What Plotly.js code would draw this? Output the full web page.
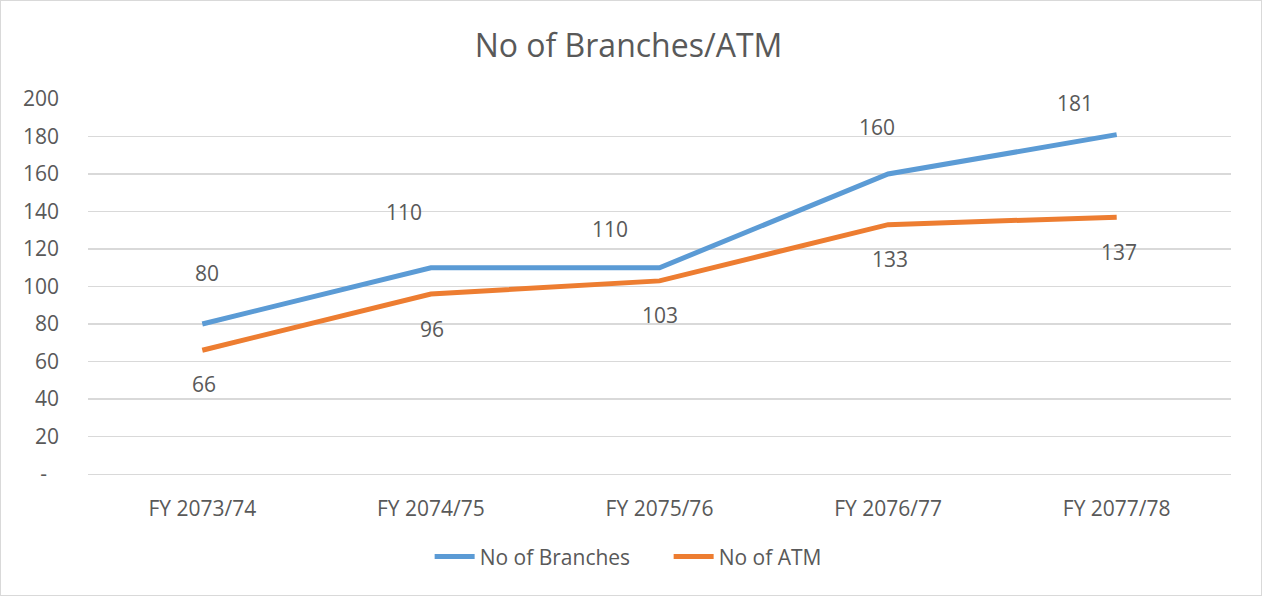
<!DOCTYPE html>
<html>
<head>
<meta charset="utf-8">
<script src="https://cdn.plot.ly/plotly-3.0.1.min.js"></script>
<style>
  body { margin: 0; background: #fff; }
  #lineChart { width: 1262px; height: 596px; box-sizing: border-box; border: 1px solid #d9d9d9; }
</style>
</head>
<body>
<div id="lineChart"></div>
<script>
var years = ["FY 2073/74", "FY 2074/75", "FY 2075/76", "FY 2076/77", "FY 2077/78"];
var branches = [80, 110, 110, 160, 181];
var atms = [66, 96, 103, 133, 137];
var yTicks = [0, 20, 40, 60, 80, 100, 120, 140, 160, 180, 200];
var yTickText = ["-\u2007", "20", "40", "60", "80", "100", "120", "140", "160", "180", "200"];

// label offsets (px) as Excel placed them
var branchShiftX = [5, -27, -50, -11, -42];
var branchShiftY = [51, 56, 39, 47, 32];
var atmShiftX = [2, 1, 0, 2, 2];
var atmShiftY = [-34, -35, -34, -34, -35];

var FONT = "Open Sans, Lato, sans-serif";
var GREY = "#595959";

TESTER = document.getElementById("lineChart");

var trace1 = {
  x: years,
  y: branches,
  mode: "lines",
  type: "scatter",
  name: "No of Branches",
  line: { color: "#5b9bd5", width: 5 },
  hoverinfo: "skip",
};

var trace2 = {
  x: years,
  y: atms,
  mode: "lines",
  type: "scatter",
  name: "No of ATM",
  line: { color: "#ed7d31", width: 5 },
  hoverinfo: "skip",
};

var labels = [];
years.forEach(function (yr, i) {
  labels.push({
    x: yr, y: branches[i], text: String(branches[i]), showarrow: false,
    xshift: branchShiftX[i], yshift: branchShiftY[i],
    font: { family: FONT, size: 21, color: GREY },
  });
  labels.push({
    x: yr, y: atms[i], text: String(atms[i]), showarrow: false,
    xshift: atmShiftX[i], yshift: atmShiftY[i],
    font: { family: FONT, size: 21, color: GREY },
  });
});

var layout = {
  width: 1260,
  height: 594,
  margin: { l: 87, r: 30, t: 98, b: 121 },
  paper_bgcolor: "#ffffff",
  plot_bgcolor: "#ffffff",
  font: { family: FONT, size: 21, color: GREY },
  title: {
    text: "No of Branches/ATM",
    font: { family: FONT, size: 32, color: GREY },
    x: 0.498,
    xanchor: "center",
    yref: "container",
    y: 0.925,
    yanchor: "middle",
  },
  xaxis: {
    type: "category",
    range: [-0.5, 4.5],
    showgrid: false,
    showline: true,
    linecolor: "#d9d9d9",
    linewidth: 1,
    ticks: "",
    ticklabelstandoff: 16,
    tickfont: { family: FONT, size: 21, color: GREY },
  },
  yaxis: {
    range: [0, 200],
    tickvals: yTicks,
    ticktext: yTickText,
    showgrid: true,
    gridcolor: "#d9d9d9",
    gridwidth: 1.3,
    zeroline: false,
    showline: false,
    ticks: "",
    ticklabelstandoff: 28,
    tickfont: { family: FONT, size: 21, color: GREY },
  },
  showlegend: true,
  legend: {
    orientation: "h",
    x: 0.508,
    xanchor: "center",
    y: -0.221,
    yanchor: "middle",
    font: { family: FONT, size: 21, color: GREY },
    itemwidth: 40,
    entrywidth: 184,
    entrywidthmode: "pixels",
  },
  annotations: labels,
};

Plotly.newPlot(TESTER, [trace1, trace2], layout, { displayModeBar: false, staticPlot: true });
</script>
</body>
</html>
